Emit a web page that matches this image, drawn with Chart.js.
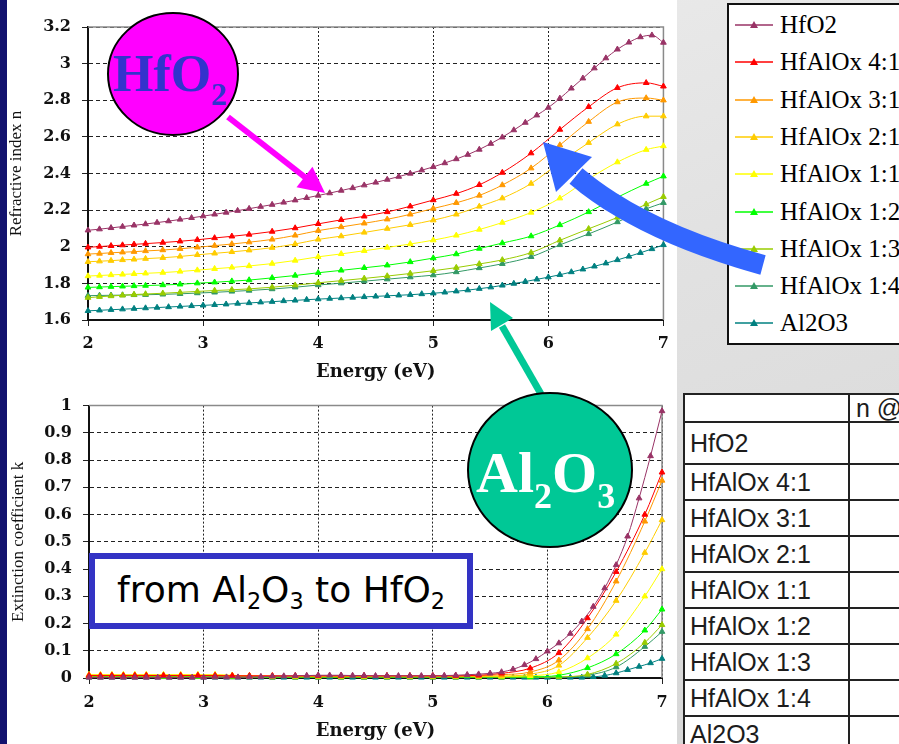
<!DOCTYPE html>
<html lang="en">
<head>
<meta charset="UTF-8">
<title>HfAlOx optical constants</title>
<script src="https://cdn.jsdelivr.net/npm/chart.js"></script>
<style>
    html, body {
        margin: 0;
        padding: 0;
        width: 899px;
        height: 744px;
        overflow: hidden;
    }
    body {
        position: relative;
        background: linear-gradient(160deg, #efefef 0%, #e2e2e2 45%, #d6d6d6 100%);
    }
    #leftBar {
        position: absolute; left: 0; top: 0; width: 7px; height: 744px;
        background: #12126e;
    }
    #panel {
        position: absolute; left: 7px; top: 0; width: 670px; height: 744px;
        background: #fff;
    }
    canvas { position: absolute; left: 8px; }
    #chartN { top: 0; }
    #chartK { top: 385px; }

    #legend {
        position: absolute; left: 727px; top: 3px; width: 190px; height: 342px;
        box-sizing: border-box; border: 2px solid #111; background: #fff;
    }
    .legRow {
        position: absolute; left: 6px; height: 26px;
        display: flex; align-items: center;
        white-space: nowrap;
    }
    .legRow span {
        font-family: "Liberation Serif", "Times New Roman", Times, serif;
        font-size: 25px; color: #000;
    }
    .legRow svg { margin-right: 7px; }

    #tbl {
        position: absolute; left: 683px; top: 393px; width: 345px;
        border-collapse: collapse; background: #fff;
        font-family: 'Liberation Sans', Arial, sans-serif;
        font-size: 25px; color: #1c1c1c;
        table-layout: fixed;
    }
    #tbl td {
        border: 2px solid #222; padding: 0 0 0 5px;
        white-space: nowrap; overflow: hidden; line-height: 1;
    }

    #note {
        position: absolute; left: 89px; top: 553px; width: 384px; height: 76px;
        box-sizing: border-box; border: 6px solid #3333c4; background: #fff;
        display: flex; align-items: center; justify-content: center;
    }
    #note span {
        font-family: 'DejaVu Sans', sans-serif; font-size: 36px; color: #000;
        white-space: nowrap; position: relative; top: -2px;
    }
    #note sub { font-size: 0.62em; vertical-align: -0.32em; line-height: 0; }

    #overlay { position: absolute; left: 0; top: 0; pointer-events: none; }
</style>
</head>
<body>
<div id="leftBar"></div>
<div id="panel"></div>
<canvas id="chartN" width="669" height="385"></canvas>
<canvas id="chartK" width="669" height="359"></canvas>
<div id="legend"></div>
<table id="tbl"><colgroup><col style="width:165px"><col style="width:180px"></colgroup></table>
<div id="note"><span>from Al<sub>2</sub>O<sub>3</sub> to HfO<sub>2</sub></span></div>

<svg id="overlay" width="899" height="744">
    <!-- HfO2 bubble + arrow -->
    <line x1="228" y1="117" x2="306" y2="178" stroke="#ff00ff" stroke-width="6"/>
    <polygon points="325,193 296.5,187.2 312.5,166.8" fill="#ff00ff"/>
    <ellipse cx="173" cy="74" rx="65" ry="61" fill="#ff00ff" stroke="#000" stroke-width="2"/>
    <text x="113" y="91" font-family="Liberation Serif, Times New Roman, serif" font-weight="bold" font-size="52" fill="#3333cc">HfO<tspan font-size="32" dy="14">2</tspan></text>

    <!-- Al2O3 bubble + arrow -->
    <line x1="541" y1="394" x2="502" y2="326" stroke="#00c896" stroke-width="7"/>
    <polygon points="490,302 513,318 491,331" fill="#00c896"/>
    <ellipse cx="550" cy="470" rx="82" ry="77" fill="#00c896" stroke="#000" stroke-width="2"/>
    <text x="476" y="492" font-family="Liberation Serif, Times New Roman, serif" font-weight="bold" font-size="58" fill="#fff">Al<tspan font-size="36" dy="16">2</tspan><tspan dy="-16">O</tspan><tspan font-size="36" dy="16">3</tspan></text>

    <!-- blue curved arrow -->
    <path d="M 763 265 Q 642 232 576 176" fill="none" stroke="#3366ff" stroke-width="20"/>
    <polygon points="543,142 592,157 556,192" fill="#3366ff"/>
</svg>

<script>
// series names and colours (legend order)
const names = ['HfO2', 'HfAlOx 4:1', 'HfAlOx 3:1', 'HfAlOx 2:1', 'HfAlOx 1:1',
               'HfAlOx 1:2', 'HfAlOx 1:3', 'HfAlOx 1:4', 'Al2O3'];
const colors = ['#993366', '#ff0000', '#ff9900', '#ffcc00', '#ffff00',
                '#00ff00', '#99cc00', '#339966', '#008080'];

// photon energy (eV) - fine grid for pure oxides, coarser grid for the mixtures
const eFine = [2.0, 2.1, 2.2, 2.3, 2.4, 2.5, 2.6, 2.7, 2.8, 2.9,
               3.0, 3.1, 3.2, 3.3, 3.4, 3.5, 3.6, 3.7, 3.8, 3.9,
               4.0, 4.1, 4.2, 4.3, 4.4, 4.5, 4.6, 4.7, 4.8, 4.9,
               5.0, 5.1, 5.2, 5.3, 5.4, 5.5, 5.6, 5.7, 5.8, 5.9,
               6.0, 6.1, 6.2, 6.3, 6.4, 6.5, 6.6, 6.7, 6.8, 6.9, 7.0];
const eMix = [2.0, 2.1, 2.2, 2.3, 2.4, 2.5, 2.65, 2.8, 2.95, 3.1,
              3.25, 3.4, 3.6, 3.8, 4.0, 4.2, 4.4, 4.6, 4.8, 5.0,
              5.2, 5.4, 5.6, 5.85, 6.1, 6.35, 6.6, 6.85, 7.0];

// refractive index n
const nHfO2 = [2.090, 2.096, 2.103, 2.110, 2.117, 2.124, 2.132, 2.140, 2.149, 2.158,
               2.167, 2.177, 2.187, 2.197, 2.208, 2.219, 2.230, 2.242, 2.254, 2.267,
               2.280, 2.293, 2.307, 2.321, 2.336, 2.351, 2.367, 2.383, 2.400, 2.418,
               2.436, 2.457, 2.479, 2.503, 2.531, 2.563, 2.598, 2.637, 2.678, 2.718,
               2.760, 2.810, 2.865, 2.920, 2.975, 3.030, 3.078, 3.116, 3.145, 3.155, 3.115];
const n41 = [1.997, 2.001, 2.005, 2.009, 2.013, 2.017, 2.023, 2.030, 2.038, 2.048,
             2.057, 2.067, 2.083, 2.102, 2.125, 2.147, 2.166, 2.190, 2.221, 2.255,
             2.290, 2.338, 2.405, 2.511, 2.640, 2.764, 2.868, 2.895, 2.876];
const n31 = [1.960, 1.963, 1.967, 1.970, 1.973, 1.977, 1.982, 1.989, 1.997, 2.006,
             2.015, 2.025, 2.040, 2.062, 2.088, 2.108, 2.128, 2.150, 2.177, 2.209,
             2.240, 2.280, 2.337, 2.429, 2.555, 2.683, 2.790, 2.812, 2.800];
const n21 = [1.918, 1.921, 1.924, 1.928, 1.931, 1.935, 1.940, 1.947, 1.956, 1.964,
             1.972, 1.981, 1.995, 2.015, 2.040, 2.058, 2.078, 2.099, 2.120, 2.145,
             2.177, 2.220, 2.265, 2.345, 2.460, 2.568, 2.669, 2.713, 2.713];
const n11 = [1.840, 1.843, 1.846, 1.849, 1.852, 1.855, 1.859, 1.865, 1.872, 1.880,
             1.887, 1.895, 1.908, 1.925, 1.945, 1.961, 1.978, 1.996, 2.015, 2.036,
             2.062, 2.094, 2.132, 2.187, 2.265, 2.370, 2.462, 2.530, 2.550];
const n12 = [1.778, 1.780, 1.782, 1.784, 1.786, 1.788, 1.791, 1.795, 1.801, 1.806,
             1.812, 1.818, 1.830, 1.843, 1.858, 1.871, 1.885, 1.899, 1.917, 1.938,
             1.960, 1.990, 2.020, 2.058, 2.119, 2.190, 2.270, 2.345, 2.385];
const n13 = [1.722, 1.727, 1.731, 1.735, 1.739, 1.742, 1.746, 1.751, 1.756, 1.761,
             1.765, 1.770, 1.779, 1.790, 1.803, 1.815, 1.827, 1.840, 1.854, 1.869,
             1.886, 1.906, 1.928, 1.968, 2.035, 2.098, 2.160, 2.232, 2.273];
const n14 = [1.733, 1.734, 1.735, 1.736, 1.737, 1.738, 1.740, 1.743, 1.747, 1.751,
             1.756, 1.761, 1.769, 1.779, 1.791, 1.801, 1.812, 1.823, 1.834, 1.845,
             1.862, 1.884, 1.907, 1.945, 2.010, 2.070, 2.135, 2.207, 2.240];
const nAl2O3 = [1.650, 1.653, 1.656, 1.659, 1.662, 1.665, 1.668, 1.671, 1.674, 1.677,
                1.680, 1.683, 1.686, 1.690, 1.693, 1.697, 1.700, 1.704, 1.707, 1.711,
                1.714, 1.717, 1.720, 1.723, 1.726, 1.729, 1.732, 1.735, 1.738, 1.742,
                1.746, 1.751, 1.757, 1.763, 1.771, 1.779, 1.789, 1.799, 1.810, 1.822,
                1.834, 1.847, 1.862, 1.877, 1.893, 1.910, 1.928, 1.947, 1.967, 1.988, 2.010];

// extinction coefficient k
const kHfO2 = [0.002, 0.002, 0.002, 0.002, 0.002, 0.002, 0.002, 0.002, 0.002, 0.002,
               0.002, 0.003, 0.003, 0.003, 0.004, 0.005, 0.006, 0.007, 0.008, 0.009,
               0.010, 0.010, 0.010, 0.009, 0.009, 0.008, 0.008, 0.008, 0.008, 0.008,
               0.008, 0.009, 0.010, 0.012, 0.014, 0.017, 0.022, 0.032, 0.048, 0.070,
               0.098, 0.128, 0.163, 0.208, 0.262, 0.330, 0.415, 0.520, 0.660, 0.815, 0.980];
const k41 = [0.009, 0.009, 0.009, 0.009, 0.009, 0.009, 0.009, 0.009, 0.009, 0.009,
             0.008, 0.008, 0.008, 0.008, 0.008, 0.008, 0.008, 0.008, 0.008, 0.008,
             0.008, 0.010, 0.017, 0.036, 0.092, 0.220, 0.390, 0.600, 0.755];
const k31 = [0.008, 0.008, 0.008, 0.008, 0.008, 0.008, 0.008, 0.008, 0.008, 0.008,
             0.007, 0.007, 0.007, 0.007, 0.007, 0.007, 0.007, 0.007, 0.007, 0.007,
             0.007, 0.008, 0.012, 0.022, 0.065, 0.180, 0.355, 0.575, 0.725];
const k21 = [0.011, 0.011, 0.011, 0.011, 0.011, 0.011, 0.011, 0.011, 0.011, 0.011,
             0.009, 0.008, 0.006, 0.006, 0.006, 0.006, 0.006, 0.006, 0.006, 0.006,
             0.006, 0.006, 0.007, 0.014, 0.046, 0.148, 0.284, 0.460, 0.580];
const k11 = [0.012, 0.012, 0.012, 0.012, 0.012, 0.012, 0.012, 0.012, 0.012, 0.012,
             0.010, 0.008, 0.006, 0.006, 0.006, 0.006, 0.006, 0.006, 0.006, 0.006,
             0.006, 0.006, 0.006, 0.008, 0.022, 0.073, 0.160, 0.300, 0.400];
const k12 = [0.006, 0.006, 0.006, 0.006, 0.006, 0.006, 0.006, 0.006, 0.006, 0.006,
             0.005, 0.005, 0.004, 0.004, 0.004, 0.004, 0.004, 0.004, 0.004, 0.004,
             0.004, 0.004, 0.004, 0.004, 0.010, 0.037, 0.088, 0.175, 0.252];
const k13 = [0.005, 0.005, 0.005, 0.005, 0.005, 0.005, 0.005, 0.005, 0.005, 0.005,
             0.004, 0.004, 0.003, 0.003, 0.003, 0.003, 0.003, 0.003, 0.003, 0.003,
             0.003, 0.003, 0.003, 0.003, 0.004, 0.013, 0.053, 0.130, 0.195];
const k14 = [0.004, 0.004, 0.004, 0.004, 0.004, 0.004, 0.004, 0.004, 0.004, 0.004,
             0.003, 0.003, 0.003, 0.003, 0.003, 0.003, 0.003, 0.003, 0.003, 0.003,
             0.003, 0.003, 0.003, 0.003, 0.003, 0.010, 0.040, 0.115, 0.170];
const kAl2O3 = [0.002, 0.002, 0.002, 0.002, 0.002, 0.002, 0.002, 0.002, 0.002, 0.002,
                0.002, 0.002, 0.002, 0.002, 0.002, 0.002, 0.002, 0.002, 0.002, 0.002,
                0.002, 0.002, 0.002, 0.002, 0.002, 0.002, 0.002, 0.002, 0.002, 0.002,
                0.002, 0.002, 0.002, 0.002, 0.002, 0.002, 0.002, 0.002, 0.002, 0.002,
                0.002, 0.002, 0.002, 0.002, 0.004, 0.009, 0.018, 0.030, 0.042, 0.055, 0.071];

const nSeries = [nHfO2, n41, n31, n21, n11, n12, n13, n14, nAl2O3];
const kSeries = [kHfO2, k41, k31, k21, k11, k12, k13, k14, kAl2O3];
const xFor = i => (i === 0 || i === 8) ? eFine : eMix;

function buildSets(series) {
    return series.map((ys, i) => ({
        label: names[i],
        data: xFor(i).map((x, j) => ({ x: x, y: ys[j] })),
        borderColor: colors[i],
        backgroundColor: colors[i],
        borderWidth: 1,
        pointStyle: 'triangle',
        pointRadius: 3.3,
        pointBorderWidth: 1,
        cubicInterpolationMode: 'monotone',
        clip: 6
    }));
}

// grey frame on top/right of the plot area, like the Excel chart
const frame = {
    id: 'frame',
    beforeDatasetsDraw(chart) {
        const a = chart.chartArea, ctx = chart.ctx;
        ctx.save();
        ctx.strokeStyle = '#8a8a8a';
        ctx.lineWidth = 1.5;
        ctx.beginPath();
        ctx.moveTo(a.left, a.top);
        ctx.lineTo(a.right, a.top);
        ctx.lineTo(a.right, a.bottom);
        ctx.stroke();
        ctx.restore();
    }
};

const tickFont = { family: 'DejaVu Serif', weight: 'bold', size: 16 };
const fmt = v => String(+Number(v).toFixed(1));

function makeChart(id, sets, o) {
    return new Chart(document.getElementById(id), {
        type: 'line',
        data: { datasets: sets },
        plugins: [frame],
        options: {
            responsive: false,
            animation: false,
            devicePixelRatio: 1,
            layout: { padding: { top: o.padTop, right: o.padRight, left: 0, bottom: 0 } },
            plugins: { legend: { display: false }, tooltip: { enabled: false } },
            scales: {
                x: {
                    type: 'linear', min: 2, max: 7,
                    ticks: { stepSize: 1, padding: o.xPad, color: '#111', font: tickFont, callback: fmt },
                    grid: { color: '#222', lineWidth: 1, tickLength: 6, tickColor: '#222' },
                    border: { display: true, color: '#111', width: 2, dash: [2, 2] },
                    title: {
                        display: true, text: 'Energy (eV)', color: '#111',
                        font: { family: 'DejaVu Serif', weight: 'bold', size: 18, lineHeight: 1.1 },
                        padding: { top: 0, bottom: 3 }
                    },
                    afterFit: s => { s.height = o.xH; }
                },
                y: {
                    type: 'linear', min: o.yMin, max: o.yMax,
                    ticks: { stepSize: o.yStep, padding: 11, color: '#111', font: tickFont, callback: fmt },
                    grid: { color: '#222', lineWidth: 1, tickLength: 6, tickColor: '#222' },
                    border: { display: true, color: '#111', width: 2, dash: [4, 3] },
                    title: {
                        display: true, text: o.yTitle, color: '#111',
                        font: { family: 'Liberation Serif', size: 17, lineHeight: 1 },
                        padding: { top: o.yTitlePad, bottom: 0 }
                    },
                    afterFit: s => { s.width = o.yW; }
                }
            }
        }
    });
}

makeChart('chartN', buildSets(nSeries), {
    padTop: 27, padRight: 11, xH: 65, yW: 80, xPad: 8, yTitlePad: 0,
    yMin: 1.6, yMax: 3.2, yStep: 0.2, yTitle: 'Refractive index n'
});
makeChart('chartK', buildSets(kSeries), {
    padTop: 11, padRight: 15, xH: 66, yW: 81, xPad: 9, yTitlePad: 2,
    yMin: 0, yMax: 1, yStep: 0.1, yTitle: 'Extinction coefficient k'
});

// legend box
const legend = document.getElementById('legend');
names.forEach((nm, i) => {
    const row = document.createElement('div');
    row.className = 'legRow';
    row.style.top = (25 + 37.3 * i - 5 - 13) + 'px';
    row.innerHTML =
        '<svg width="38" height="12"><line x1="0" y1="6" x2="38" y2="6" stroke="' + colors[i] +
        '" stroke-width="1.5"/><polygon points="19,2 23,9 15,9" fill="' + colors[i] + '"/></svg>' +
        '<span>' + nm + '</span>';
    legend.appendChild(row);
});

// table of materials
const tbl = document.getElementById('tbl');
const rowH = [28, 42, 36, 36, 36, 36, 36, 36, 36, 36];
['', ...names].forEach((nm, i) => {
    const tr = document.createElement('tr');
    tr.style.height = rowH[i] + 'px';
    const a = document.createElement('td');
    a.textContent = nm;
    const b = document.createElement('td');
    b.style.paddingLeft = '6px';
    b.textContent = i === 0 ? 'n @' : '';
    tr.appendChild(a);
    tr.appendChild(b);
    tbl.appendChild(tr);
});
</script>
</body>
</html>
